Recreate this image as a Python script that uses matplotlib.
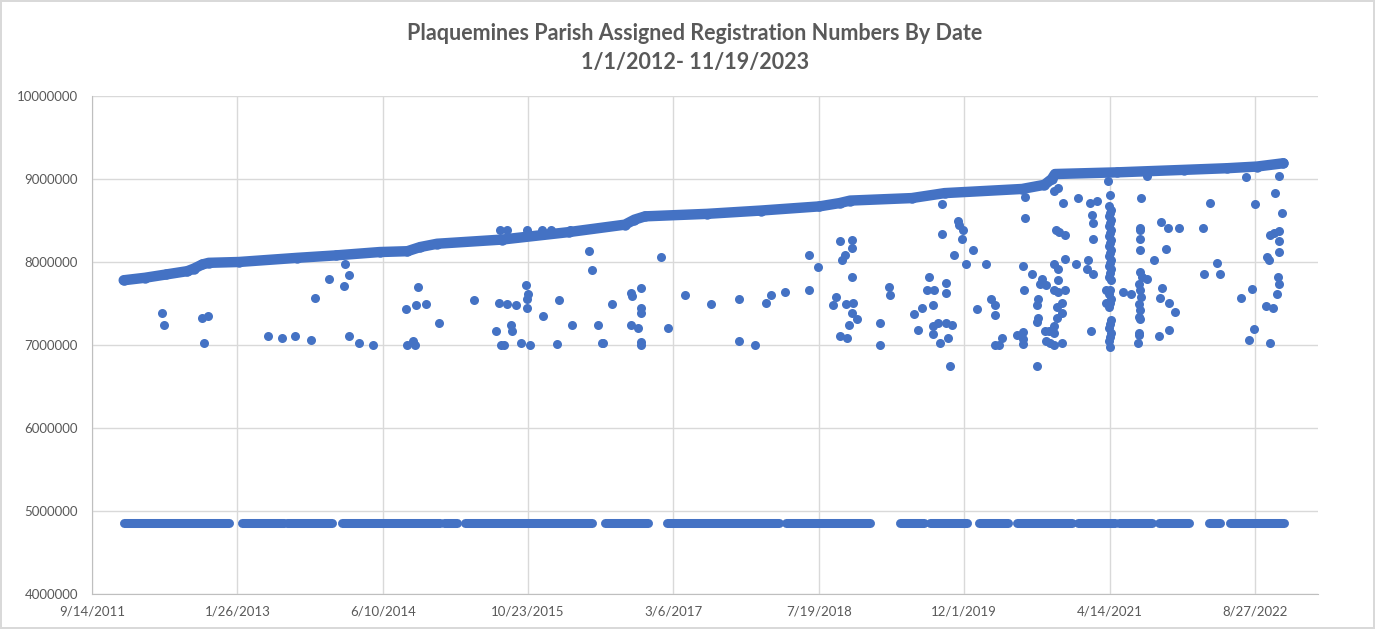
from datetime import datetime, timedelta
import matplotlib
matplotlib.use("Agg")
import matplotlib.pyplot as plt
import matplotlib.dates as mdates
from matplotlib.ticker import FuncFormatter, MultipleLocator

# values: x as decimal year, y in millions
trend_year = [2012.00, 2012.20, 2012.40, 2012.60, 2012.66, 2012.74, 2012.80, 2013.08,
              2013.63, 2014.00, 2014.41, 2014.67, 2014.79, 2014.95, 2015.56, 2016.19,
              2016.72, 2016.81, 2016.91, 2017.49, 2018.00, 2018.55, 2018.74, 2018.84,
              2019.42, 2019.73, 2020.46, 2020.67, 2020.74, 2020.77, 2021.35, 2021.98,
              2022.39, 2022.67, 2022.92]
trend_val = [7.78, 7.81, 7.85, 7.89, 7.92, 7.97, 7.99, 8.00,
             8.05, 8.08, 8.12, 8.13, 8.18, 8.22, 8.27, 8.36,
             8.45, 8.51, 8.55, 8.58, 8.62, 8.67, 8.71, 8.74,
             8.77, 8.83, 8.88, 8.93, 9.00, 9.06, 9.08, 9.11,
             9.13, 9.15, 9.19]

# runs of points in the low band (start year, end year)
low_start = [2012.00, 2013.11, 2013.54, 2014.05, 2015.02, 2015.21, 2016.53, 2017.11,
             2018.24, 2019.16, 2019.31, 2019.59, 2020.05, 2020.41, 2020.99, 2021.37,
             2021.75, 2022.09, 2022.22, 2022.42]
low_end = [2012.99, 2013.51, 2013.96, 2014.98, 2015.14, 2016.41, 2016.94, 2018.17,
           2019.03, 2019.16, 2019.54, 2019.94, 2020.33, 2020.93, 2021.33, 2021.68,
           2022.03, 2022.09, 2022.32, 2022.93]
low_val = [4.86, 4.86, 4.85, 4.86, 4.86, 4.86, 4.86, 4.86,
           4.86, 4.86, 4.86, 4.86, 4.86, 4.86, 4.86, 4.86,
           4.86, 4.86, 4.86, 4.86]

out_year = [2012.36, 2012.38, 2012.74, 2012.79, 2012.76, 2013.36, 2013.49, 2013.61, 2013.76, 2013.80,
            2013.93, 2014.08, 2014.12, 2014.07, 2014.12, 2014.21, 2014.35, 2014.66, 2014.75, 2014.77,
            2014.85, 2014.97, 2014.67, 2014.72, 2014.74, 2015.30, 2015.53, 2015.51, 2015.55, 2015.54,
            2015.61, 2015.80, 2015.94, 2016.02, 2016.20, 2015.79, 2015.81, 2015.80, 2015.80, 2015.61,
            2015.69, 2015.65, 2015.66, 2015.58, 2015.74, 2015.83, 2015.95, 2016.10, 2016.08, 2016.22,
            2016.38, 2016.41, 2016.47, 2016.50, 2016.51, 2016.60, 2016.78, 2016.79, 2016.87, 2016.87,
            2016.87, 2016.78, 2016.84, 2016.87, 2016.87, 2017.06, 2017.12, 2017.28, 2017.53, 2017.79,
            2017.79, 2017.94, 2018.05, 2018.09, 2018.23, 2018.45, 2018.45, 2018.54, 2018.74, 2018.86,
            2018.86, 2018.79, 2018.76, 2018.86, 2018.71, 2018.68, 2018.80, 2018.87, 2018.86, 2018.90,
            2018.83, 2018.74, 2018.81, 2019.12, 2019.12, 2019.21, 2019.22, 2019.44, 2019.71, 2019.71,
            2019.86, 2019.87, 2019.90, 2019.89, 2020.00, 2019.82, 2019.93, 2020.12, 2019.58, 2019.74,
            2019.56, 2019.63, 2019.74, 2019.62, 2019.52, 2019.48, 2019.62, 2019.67, 2019.74, 2019.80,
            2019.62, 2019.76, 2019.69, 2019.78, 2020.17, 2020.21, 2020.04, 2020.21, 2020.27, 2020.21,
            2020.24, 2020.49, 2020.49, 2020.47, 2020.55, 2020.48, 2020.63, 2020.65, 2020.69, 2020.61,
            2020.60, 2020.61, 2020.60, 2020.41, 2020.47, 2020.47, 2020.47, 2020.60, 2020.68, 2020.71,
            2020.69, 2020.72, 2020.76, 2020.84, 2020.76, 2020.76, 2020.79, 2020.84, 2020.79, 2020.84,
            2020.76, 2020.80, 2020.86, 2020.80, 2020.76, 2020.80, 2020.86, 2020.97, 2020.78, 2020.81,
            2020.86, 2020.85, 2020.76, 2020.80, 2020.99, 2021.08, 2021.07, 2021.13, 2021.11, 2021.12,
            2021.13, 2021.13, 2021.10, 2021.16, 2021.27,
            2021.29, 2021.28, 2021.30, 2021.29, 2021.28, 2021.30, 2021.29, 2021.28, 2021.30, 2021.29,
            2021.28, 2021.30, 2021.29, 2021.28, 2021.30, 2021.29, 2021.28, 2021.30, 2021.29, 2021.28,
            2021.30, 2021.29, 2021.28, 2021.30, 2021.29, 2021.28, 2021.30, 2021.29, 2021.28, 2021.30,
            2021.29, 2021.28, 2021.30, 2021.29, 2021.28, 2021.29, 2021.25, 2021.25,
            2021.63, 2021.58, 2021.57, 2021.57, 2021.57, 2021.57, 2021.77, 2021.83, 2021.94, 2021.81,
            2021.70, 2021.57, 2021.59, 2021.63, 2021.56, 2021.57, 2021.58, 2021.56, 2021.57, 2021.56,
            2021.57, 2021.41, 2021.48, 2021.56, 2021.56, 2021.55, 2021.78, 2021.76, 2021.84, 2021.90,
            2021.75, 2021.84, 2022.23, 2022.16, 2022.29, 2022.17, 2022.32, 2022.57, 2022.65, 2022.62,
            2022.52, 2022.64, 2022.60, 2022.79, 2022.88, 2022.84, 2022.91, 2022.79, 2022.83, 2022.88,
            2022.88, 2022.88, 2022.77, 2022.78, 2022.87, 2022.88, 2022.86, 2022.76, 2022.82]
out_val = [7.39, 7.24, 7.33, 7.35, 7.02, 7.11, 7.08, 7.11, 7.06, 7.57,
           7.79, 7.98, 7.84, 7.71, 7.11, 7.02, 7.00, 7.43, 7.48, 7.70,
           7.49, 7.27, 7.00, 7.05, 7.00, 7.54, 7.51, 7.17, 7.00, 8.39,
           8.39, 8.39, 8.39, 8.39, 8.39, 7.72, 7.61, 7.56, 7.44, 7.49,
           7.48, 7.24, 7.17, 7.00, 7.03, 7.00, 7.35, 7.54, 7.01, 7.24,
           8.13, 7.90, 7.24, 7.03, 7.02, 7.49, 7.63, 7.59, 7.69, 7.45,
           7.39, 7.24, 7.20, 7.04, 7.00, 8.06, 7.20, 7.60, 7.49, 7.55,
           7.05, 7.00, 7.51, 7.60, 7.64, 7.66, 8.08, 7.94, 8.25, 8.27,
           8.17, 8.08, 8.02, 7.82, 7.58, 7.48, 7.49, 7.51, 7.39, 7.31,
           7.24, 7.11, 7.08, 7.27, 7.00, 7.70, 7.60, 7.37, 8.70, 8.34,
           8.49, 8.44, 8.38, 8.28, 8.14, 8.08, 7.98, 7.97, 7.82, 7.75,
           7.66, 7.66, 7.63, 7.48, 7.45, 7.18, 7.23, 7.26, 7.27, 7.24,
           7.13, 7.09, 7.03, 6.75, 7.55, 7.48, 7.43, 7.36, 7.09, 7.00,
           7.00, 8.78, 8.53, 7.95, 7.86, 7.66, 7.74, 7.79, 7.72, 7.56,
           7.48, 7.32, 7.28, 7.12, 7.16, 7.07, 7.01, 6.75, 7.17, 7.17,
           7.05, 7.02, 7.00, 7.02, 7.15, 7.23, 7.33, 7.39, 7.46, 7.51,
           7.66, 7.64, 7.66, 7.78, 7.98, 7.92, 8.04, 7.98, 8.39, 8.36,
           8.32, 8.71, 8.85, 8.89, 8.77, 8.02, 7.92, 7.85, 7.17, 8.57,
           8.47, 8.28, 8.71, 8.73, 8.97,
           8.81, 8.67, 8.63, 8.59, 8.55, 8.51, 8.47, 8.43, 8.39, 8.35,
           8.31, 8.27, 8.23, 8.19, 8.15, 8.11, 8.07, 8.03, 7.99, 7.95,
           7.91, 7.87, 7.82, 7.78, 7.66, 7.62, 7.56, 7.50, 7.46, 7.30,
           7.25, 7.20, 7.15, 7.10, 7.05, 6.98, 7.66, 7.50,
           9.04, 8.77, 8.41, 8.38, 8.28, 8.14, 8.48, 8.41, 8.41, 8.16,
           8.03, 7.88, 7.82, 7.80, 7.74, 7.66, 7.58, 7.49, 7.42, 7.34,
           7.31, 7.64, 7.61, 7.15, 7.12, 7.03, 7.69, 7.57, 7.51, 7.40,
           7.11, 7.18, 8.71, 8.41, 7.99, 7.86, 7.86, 9.02, 8.70, 7.67,
           7.57, 7.19, 7.06, 7.03, 9.04, 8.83, 8.59, 8.33, 8.35, 8.37,
           8.25, 8.12, 8.06, 8.02, 7.82, 7.74, 7.61, 7.47, 7.44]

blue = "#4472C4"
grey_text = "#595959"


def to_date(y):
    base = datetime(int(y), 1, 1)
    return base + timedelta(days=(y - int(y)) * 365.25)


def dates(years):
    return [to_date(y) for y in years]


def millions(vals):
    return [v * 1e6 for v in vals]


plt.rcParams['font.family'] = ['Lato', 'DejaVu Sans']

fig = plt.figure(figsize=(13.75, 6.29), dpi=100)
fig.patch.set_edgecolor("#D9D9D9")
fig.patch.set_linewidth(1.5)
ax = fig.add_axes([92 / 1375, 1 - 594 / 629, (1318 - 92) / 1375, (594 - 96) / 629])

# low band
for s, e, v in zip(low_start, low_end, low_val):
    ax.plot(dates([s, e]), millions([v, v]), color=blue, lw=6.5,
            solid_capstyle='round', zorder=3)

# outliers
ax.plot(dates(out_year), millions(out_val), 'o', color=blue, ms=6.5,
        mec='none', zorder=3)

# main trend
ax.plot(dates(trend_year), millions(trend_val), '-o', color=blue, lw=7.5, ms=7.5,
        mec='none', solid_capstyle='round', solid_joinstyle='round', zorder=4)

start = datetime(2011, 9, 14)
ax.set_xlim(start, start + timedelta(days=4217))
ax.set_ylim(4e6, 10e6)
ticks = [mdates.date2num(start + timedelta(days=500 * k)) for k in range(9)]
ax.set_xticks(ticks)
ax.xaxis.set_major_formatter(FuncFormatter(
    lambda x, p: f"{mdates.num2date(x).month}/{mdates.num2date(x).day}/{mdates.num2date(x).year}"))
ax.yaxis.set_major_locator(MultipleLocator(1e6))
ax.yaxis.set_major_formatter(FuncFormatter(lambda v, p: f"{int(round(v))}"))

ax.grid(True, color="#D9D9D9", lw=1)
ax.set_axisbelow(True)
for side in ['top', 'right']:
    ax.spines[side].set_visible(False)
ax.spines['left'].set_color("#BFBFBF")
ax.spines['bottom'].set_color("#BFBFBF")
ax.tick_params(length=0, labelsize=9.5, colors=grey_text, pad=8)
ax.tick_params(axis='y', pad=10)

fig.text(695 / 1375, 1 - 33 / 629, "Plaquemines Parish Assigned Registration Numbers By Date",
         ha='center', va='center', fontsize=15.5, fontweight='bold', color=grey_text)
fig.text(695 / 1375, 1 - 62 / 629, "1/1/2012- 11/19/2023",
         ha='center', va='center', fontsize=15.5, fontweight='bold', color=grey_text)

fig.savefig("out.png", dpi=100)
